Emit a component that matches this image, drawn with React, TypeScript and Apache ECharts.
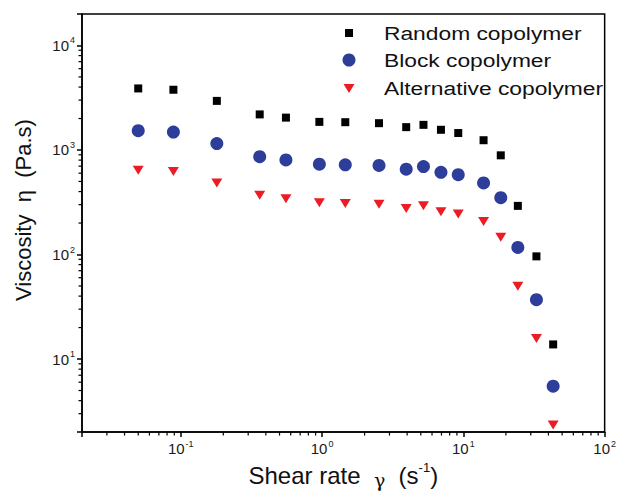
import React, { useEffect, useRef } from 'react';
import * as echarts from 'echarts';

const SHEAR_RATE = [0.05, 0.0887, 0.18, 0.362, 0.555, 0.957, 1.46, 2.53, 3.94, 5.22, 6.94, 9.2, 13.9, 18.4, 24.3, 32.9, 43.2];
const RANDOM = [3880, 3770, 2950, 2190, 2040, 1857, 1844, 1805, 1654, 1740, 1561, 1453, 1240, 889, 292, 96, 13.8];
const BLOCK = [1528, 1485, 1152, 864, 804, 731, 721, 711, 656, 695, 611, 581, 484, 350, 117, 37, 5.5];
const ALTERNATIVE = [641, 624, 484, 369, 342, 312, 307, 303, 276, 292, 257, 244, 207, 146, 49.8, 15.7, 2.34];
const SERIES_NAMES = ['Random copolymer', 'Block copolymer', 'Alternative copolymer'];

const X_MIN = 0.02;
const X_MAX = 100;
const Y_MIN = 2;
const Y_MAX = 20000;

const BLUE = '#2c3e9a';
const RED = '#ec1c24';
const FONT = '"Liberation Sans", Arial, sans-serif';

function minorTicks(min: number, max: number): number[] {
  const out: number[] = [];
  for (let d = Math.floor(Math.log10(min)); d <= Math.ceil(Math.log10(max)); d++) {
    for (let m = 2; m <= 9; m++) {
      const v = m * Math.pow(10, d);
      if (v > min * 1.0001 && v < max * 0.9999) out.push(v);
    }
  }
  return out;
}

const X_MINOR = minorTicks(X_MIN, X_MAX);
const Y_MINOR = minorTicks(Y_MIN, Y_MAX);

function pow10Label(v: number): string {
  const e = Math.log10(v);
  const r = Math.round(e);
  if (Math.abs(e - r) > 1e-6) return '';
  return `{b|10}{s|${r}}`;
}

const tickRich = {
  b: { fontSize: 15, fontFamily: FONT, color: '#1a1a1a', lineHeight: 19 },
  s: { fontSize: 9, fontFamily: FONT, color: '#1a1a1a', verticalAlign: 'top', lineHeight: 19, padding: [0, 0, 0, 1] },
};

function zip(ys: number[]) {
  return SHEAR_RATE.map((x, i) => [x, ys[i]]);
}

export default function App() {
  const ref = useRef<HTMLDivElement>(null);
  useEffect(() => {
    const chart = echarts.init(ref.current!, null, { renderer: 'svg' });
    const option: any = {
      animation: false,
      backgroundColor: '#fff',
      grid: { left: 82, right: 11, top: 14, bottom: 55, show: true, borderColor: '#000', borderWidth: 1.5, backgroundColor: 'transparent' },
      xAxis: {
        type: 'log',
        min: X_MIN,
        max: X_MAX,
        logBase: 10,
        name: '{a|Shear rate  }{g|γ}{a|  (s}{s|-1}{a|)}',
        nameLocation: 'middle',
        nameGap: 24,
        nameTextStyle: {
          rich: {
            a: { fontSize: 24, fontFamily: FONT, color: '#111', lineHeight: 28 },
            g: { fontSize: 19, fontFamily: '"DejaVu Serif", serif', color: '#111', lineHeight: 28, verticalAlign: 'bottom' },
            s: { fontSize: 13, fontFamily: FONT, color: '#111', lineHeight: 28, verticalAlign: 'top' },
          },
        },
        axisLine: { lineStyle: { color: '#000', width: 1.5 } },
        axisTick: { inside: false, length: 5, lineStyle: { color: '#000', width: 1.5 } },
        axisLabel: { fontSize: 15, fontFamily: FONT, formatter: pow10Label, rich: tickRich, margin: 7, showMinLabel: true, showMaxLabel: true },
        splitLine: { show: false },
      },
      yAxis: {
        type: 'log',
        min: Y_MIN,
        max: Y_MAX,
        logBase: 10,
        name: '{a|Viscosity  η  (Pa.s)}',
        nameLocation: 'middle',
        nameGap: 45,
        nameTextStyle: {
          padding: [0, 0, 0, 26],
          rich: {
            a: { fontSize: 22, fontFamily: FONT, color: '#111', lineHeight: 28 },
          },
        },
        axisLine: { lineStyle: { color: '#000', width: 1.5 } },
        axisTick: { inside: false, length: 5, lineStyle: { color: '#000', width: 1.5 } },
        axisLabel: { fontSize: 15, fontFamily: FONT, formatter: pow10Label, rich: tickRich, margin: 7 },
        splitLine: { show: false },
      },
      series: [
        {
          name: SERIES_NAMES[0],
          type: 'scatter',
          data: zip(RANDOM),
          symbol: 'rect',
          symbolSize: 8,
          itemStyle: { color: '#000', opacity: 1 },
        },
        {
          name: SERIES_NAMES[1],
          type: 'scatter',
          data: zip(BLOCK),
          symbol: 'circle',
          symbolSize: 13,
          itemStyle: { color: BLUE, opacity: 1 },
        },
        {
          name: SERIES_NAMES[2],
          type: 'scatter',
          data: zip(ALTERNATIVE),
          symbol: 'path://M0,0 L12,0 L6,10 Z',
          symbolSize: [11, 9],
          itemStyle: { color: RED, opacity: 1 },
        },
        {
          type: 'custom',
          silent: true,
          clip: false,
          data: X_MINOR.map((v) => [v, 10]),
          renderItem: (params: any, api: any) => {
            const p = api.coord([api.value(0), Y_MIN]);
            return { type: 'line', shape: { x1: p[0], y1: p[1], x2: p[0], y2: p[1] + 3.5 }, style: { stroke: '#000', lineWidth: 1.2 } };
          },
        },
        {
          type: 'custom',
          silent: true,
          clip: false,
          data: Y_MINOR.map((v) => [1, v]),
          renderItem: (params: any, api: any) => {
            const p = api.coord([X_MIN, api.value(1)]);
            return { type: 'line', shape: { x1: p[0] - 3.5, y1: p[1], x2: p[0], y2: p[1] }, style: { stroke: '#000', lineWidth: 1.2 } };
          },
        },
      ],
      graphic: [
        { type: 'rect', shape: { x: 345, y: 29, width: 8, height: 8 }, style: { fill: '#000' } },
        { type: 'circle', shape: { cx: 349, cy: 60, r: 6.5 }, style: { fill: BLUE } },
        { type: 'polygon', shape: { points: [[343.5, 84], [354.5, 84], [349, 93]] }, style: { fill: RED } },
        { type: 'text', x: 384, y: 33, scaleX: 1.2, style: { text: SERIES_NAMES[0], fontSize: 19, fontFamily: FONT, fill: '#111', verticalAlign: 'middle' } },
        { type: 'text', x: 384, y: 60, scaleX: 1.2, style: { text: SERIES_NAMES[1], fontSize: 19, fontFamily: FONT, fill: '#111', verticalAlign: 'middle' } },
        { type: 'text', x: 384, y: 88, scaleX: 1.2, style: { text: SERIES_NAMES[2], fontSize: 19, fontFamily: FONT, fill: '#111', verticalAlign: 'middle' } },
      ],
    };
    chart.setOption(option);
    return () => chart.dispose();
  }, []);
  return <div ref={ref} style={{ position: 'absolute', left: 0, top: 0, width: 619, height: 494 }} />;
}
